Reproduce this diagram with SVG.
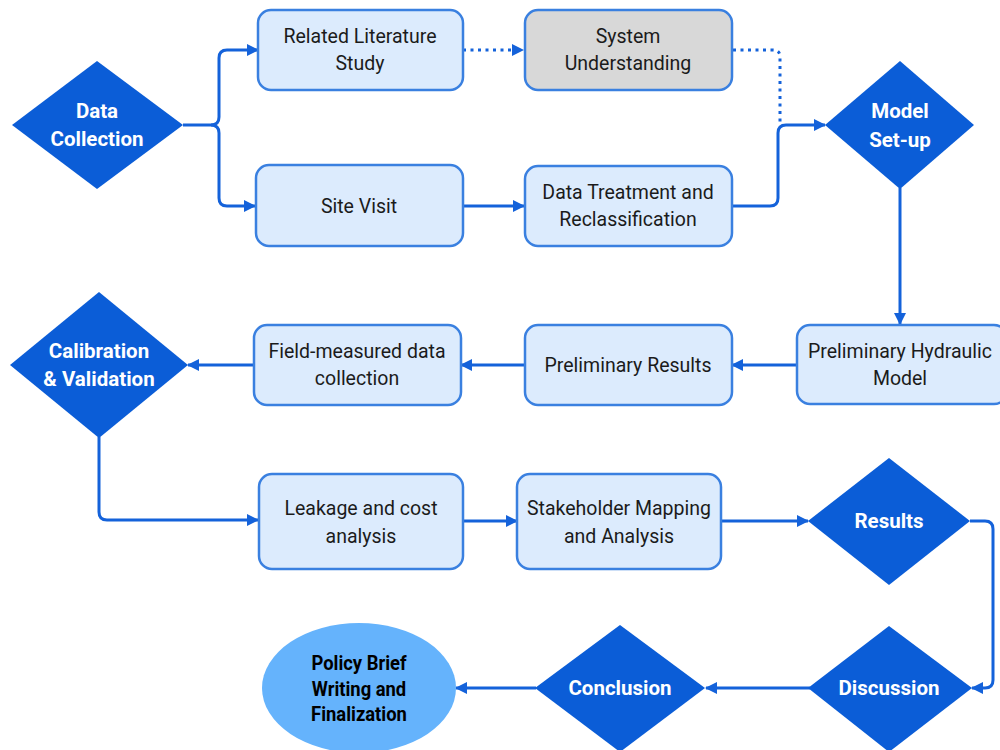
<svg xmlns="http://www.w3.org/2000/svg" width="1000" height="750" viewBox="0 0 1000 750">
<defs>
<marker id="arr" viewBox="0 0 12 12" refX="11" refY="6" markerWidth="12" markerHeight="12" markerUnits="userSpaceOnUse" orient="auto">
<path d="M0,0 L12,6 L0,12 Z" fill="#1462da"/>
</marker>
</defs>
<style>
.box{fill:#dcebfd;stroke:#3a80e0;stroke-width:2.5}
.grey{fill:#d8d8d8;stroke:#3a80e0;stroke-width:2.5}
.dia{fill:#0b5dd7}
.t{font-family:Roboto,"Liberation Sans",sans-serif;font-size:19.5px;fill:#1b1b1b;text-anchor:middle}
.dt{font-family:Roboto,"Liberation Sans",sans-serif;font-size:20.5px;font-weight:bold;fill:#ffffff;text-anchor:middle}
.pt{font-family:Roboto,"Liberation Sans",sans-serif;font-size:20px;font-weight:bold;fill:#000000;text-anchor:middle}
.c{fill:none;stroke:#1462da;stroke-width:3;marker-end:url(#arr)}
.d{fill:none;stroke:#1462da;stroke-width:3;stroke-dasharray:3 4.5}
</style>
<rect width="1000" height="750" fill="#ffffff"/>
<g id="connectors">
<path class="c" d="M183,125 H211 Q219,125 219,117 V58 Q219,50 227,50 H258"/>
<path class="c" d="M211,125 Q219,125 219,133 V198 Q219,206 227,206 H255"/>
<path class="d" d="M463,50 H512" />
<path d="M512,44 L524,50 L512,56 Z" fill="#1462da"/>
<path class="d" d="M733,50 H773 Q780,50 780,57 V123"/>
<path class="c" d="M463,206 H524"/>
<path class="c" d="M732,206 H770 Q778,206 778,198 V133 Q778,125 786,125 H825"/>
<path class="c" d="M900,188 V324"/>
<path class="c" d="M796,365 H732"/>
<path class="c" d="M524,365 H461"/>
<path class="c" d="M253,365 H188"/>
<path class="c" d="M99,437 V512 Q99,520 107,520 H258"/>
<path class="c" d="M463,521 H517"/>
<path class="c" d="M721,521 H808"/>
<path class="c" d="M970,521 H985 Q993,521 993,529 V680 Q993,688 985,688 H972"/>
<path class="c" d="M810,688 H706"/>
<path class="c" d="M536,688 H456"/>
</g>
<g id="data-collection">
<polygon class="dia" points="97,61 183,125 97,189 12,125"/>
<text class="dt" x="97" y="118">Data</text>
<text class="dt" x="97" y="146">Collection</text>
</g>
<g id="related-literature">
<rect class="box" x="258" y="10" width="205" height="80" rx="13"/>
<text class="t" x="360" y="43">Related Literature</text>
<text class="t" x="360" y="70">Study</text>
</g>
<g id="system-understanding">
<rect class="grey" x="525" y="10" width="207" height="80" rx="13"/>
<text class="t" x="628" y="43">System</text>
<text class="t" x="628" y="70">Understanding</text>
</g>
<g id="site-visit">
<rect class="box" x="256" y="165" width="207" height="81" rx="13"/>
<text class="t" x="359" y="213">Site Visit</text>
</g>
<g id="data-treatment">
<rect class="box" x="525" y="166" width="207" height="80" rx="13"/>
<text class="t" x="628" y="199">Data Treatment and</text>
<text class="t" x="628" y="226">Reclassification</text>
</g>
<g id="model-setup">
<polygon class="dia" points="900,61 974,125 900,189 825,125"/>
<text class="dt" x="900" y="118">Model</text>
<text class="dt" x="900" y="147">Set-up</text>
</g>
<g id="preliminary-hydraulic-model">
<rect class="box" x="797" y="325" width="210" height="79" rx="13"/>
<text class="t" x="900" y="358">Preliminary Hydraulic</text>
<text class="t" x="900" y="385">Model</text>
</g>
<g id="preliminary-results">
<rect class="box" x="525" y="325" width="207" height="80" rx="13"/>
<text class="t" x="628" y="372">Preliminary Results</text>
</g>
<g id="field-measured">
<rect class="box" x="254" y="325" width="207" height="80" rx="13"/>
<text class="t" x="357" y="358">Field-measured data</text>
<text class="t" x="357" y="385">collection</text>
</g>
<g id="calibration">
<polygon class="dia" points="99,292 188,365 99,438 10,365"/>
<text class="dt" x="99" y="358">Calibration</text>
<text class="dt" x="99" y="386">&amp; Validation</text>
</g>
<g id="leakage">
<rect class="box" x="259" y="474" width="204" height="95" rx="13"/>
<text class="t" x="361" y="515">Leakage and cost</text>
<text class="t" x="361" y="543">analysis</text>
</g>
<g id="stakeholder">
<rect class="box" x="517" y="474" width="204" height="95" rx="13"/>
<text class="t" x="619" y="515">Stakeholder Mapping</text>
<text class="t" x="619" y="543">and Analysis</text>
</g>
<g id="results">
<polygon class="dia" points="889,458 970,521 889,585 808,521"/>
<text class="dt" x="889" y="528">Results</text>
</g>
<g id="discussion">
<polygon class="dia" points="889,626 972,688 889,752 808,688"/>
<text class="dt" x="889" y="695">Discussion</text>
</g>
<g id="conclusion">
<polygon class="dia" points="620,625 705,688 620,752 535,688"/>
<text class="dt" x="620" y="695">Conclusion</text>
</g>
<g id="policy-brief">
<ellipse cx="359" cy="688" rx="97" ry="65" fill="#65b3fc"/>
<text class="pt" x="359" y="670" transform="translate(359 0) scale(0.92 1) translate(-359 0)">Policy Brief</text>
<text class="pt" x="359" y="696" transform="translate(359 0) scale(0.92 1) translate(-359 0)">Writing and</text>
<text class="pt" x="359" y="721" transform="translate(359 0) scale(0.92 1) translate(-359 0)">Finalization</text>
</g>
</svg>
